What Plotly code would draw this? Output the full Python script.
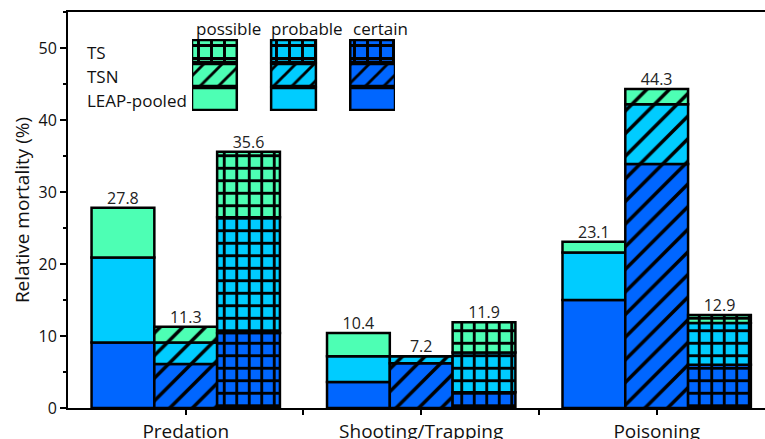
import plotly.graph_objects as go
import numpy as np

categories = ["Predation", "Shooting/Trapping", "Poisoning"]
datasets = ["LEAP-pooled", "TSN", "TS"]
levels = ["certain", "probable", "possible"]

# values per dataset: [Predation, Shooting/Trapping, Poisoning]
leap_certain = [9.1, 3.6, 15.0]
leap_probable = [11.8, 3.6, 6.6]
leap_possible = [6.9, 3.2, 1.5]

tsn_certain = [6.1, 6.2, 33.9]
tsn_probable = [3.0, 1.0, 8.3]
tsn_possible = [2.2, 0.0, 2.1]

ts_certain = [10.4, 2.2, 6.0]
ts_probable = [16.1, 5.5, 5.8]
ts_possible = [9.1, 4.2, 1.1]

totals_leap = [27.8, 10.4, 23.1]
totals_tsn = [11.3, 7.2, 44.3]
totals_ts = [35.6, 11.9, 12.9]

colors = {"possible": "#4dffb4", "probable": "#00ccff", "certain": "#0066ff"}
patterns = {"LEAP-pooled": "", "TSN": "/", "TS": "+"}
pat_size = {"LEAP-pooled": 8, "TSN": 16, "TS": 12.5}
pat_sol = {"LEAP-pooled": 0.3, "TSN": 0.22, "TS": 0.4}

data = {
    "LEAP-pooled": {"certain": leap_certain, "probable": leap_probable, "possible": leap_possible},
    "TSN": {"certain": tsn_certain, "probable": tsn_probable, "possible": tsn_possible},
    "TS": {"certain": ts_certain, "probable": ts_probable, "possible": ts_possible},
}
totals = {"LEAP-pooled": totals_leap, "TSN": totals_tsn, "TS": totals_ts}

FONT = "Open Sans"
x = np.arange(len(categories))
bw = 0.8 / 3

fig = go.Figure()

for k, ds in enumerate(datasets):
    off = -0.4 + k * bw
    base = np.zeros(len(categories))
    for lv in levels:
        vals = np.array(data[ds][lv])
        fig.add_trace(go.Bar(
            x=x, y=vals, base=base, offset=off, width=bw,
            marker=dict(color=colors[lv],
                        line=dict(color="black", width=2.5),
                        pattern=dict(shape=patterns[ds], fgcolor="black",
                                     bgcolor=colors[lv], size=pat_size[ds],
                                     solidity=pat_sol[ds], fillmode="replace")),
            showlegend=False, hoverinfo="skip"))
        base = base + vals
    fig.add_trace(go.Scatter(
        x=x + off + bw / 2, y=totals[ds], mode="text",
        text=[f"{v:.1f}" for v in totals[ds]], textposition="top center",
        textfont=dict(family=FONT, size=16, color="#222"),
        showlegend=False, hoverinfo="skip"))

# custom legend grid on its own axes
row_order = ["LEAP-pooled", "TSN", "TS"]   # bottom to top
col_order = ["possible", "probable", "certain"]
for r, ds in enumerate(row_order):
    for c, lv in enumerate(col_order):
        fig.add_trace(go.Bar(
            x=[c], y=[0.92], base=[r + 0.04], width=0.566,
            marker=dict(color=colors[lv],
                        line=dict(color="black", width=2.5),
                        pattern=dict(shape=patterns[ds], fgcolor="black",
                                     bgcolor=colors[lv], size=13,
                                     solidity=pat_sol[ds], fillmode="replace")),
            xaxis="x2", yaxis="y2", showlegend=False, hoverinfo="skip"))
    fig.add_annotation(x=0.0244, xref="paper", y=r + 0.45, yref="y2",
                       text=ds, showarrow=False, xanchor="left", yanchor="middle",
                       font=dict(family=FONT, size=17, color="#111"))

col_label_x = [0.2296, 0.343, 0.449]
for c, lv in enumerate(col_order):
    fig.add_annotation(x=col_label_x[c], xref="paper", y=0.958, yref="paper",
                       text=lv, showarrow=False, xanchor="center", yanchor="middle",
                       font=dict(family=FONT, size=17, color="#111"))

fig.update_layout(
    width=765, height=439,
    margin=dict(l=68, r=0, t=12, b=31),
    paper_bgcolor="white", plot_bgcolor="white",
    barmode="overlay",
    font=dict(family=FONT, color="#111"),
    xaxis=dict(range=[-0.5, 2.46], tickmode="array", tickvals=list(x),
               ticktext=categories, showline=True, linecolor="black",
               linewidth=2, mirror=True, ticks="outside", ticklen=5,
               tickwidth=2, tickcolor="black", showgrid=False, zeroline=False,
               automargin=False,
               tickfont=dict(family=FONT, size=19, color="#111"),
               minor=dict(tickmode="array", tickvals=[0.5, 1.5], ticks="outside",
                          ticklen=5, tickwidth=2, tickcolor="black", showgrid=False)),
    yaxis=dict(range=[0, 55], tickvals=[0, 10, 20, 30, 40, 50],
               showline=True, linecolor="black", linewidth=2,
               ticks="outside", ticklen=6, tickwidth=2, tickcolor="black",
               showgrid=False, zeroline=False, automargin=False,
               tickfont=dict(family=FONT, size=16, color="#111"),
               minor=dict(tickvals=[5, 15, 25, 35, 45, 55], ticks="outside",
                          ticklen=3, tickwidth=2, tickcolor="black", showgrid=False),
               title=dict(text="Relative mortality (%)", standoff=4,
                          font=dict(family=FONT, size=19, color="#111"))),
    xaxis2=dict(domain=[0.1779, 0.4692], range=[-0.283, 2.283], anchor="y2",
                visible=False, fixedrange=True, automargin=False),
    yaxis2=dict(domain=[0.75, 0.9318], range=[0, 3], anchor="x2",
                visible=False, fixedrange=True, automargin=False),
)

fig.write_html("out.html", config={"displayModeBar": False},
               post_script="document.body.style.margin='0px';document.body.style.overflow='hidden';")
